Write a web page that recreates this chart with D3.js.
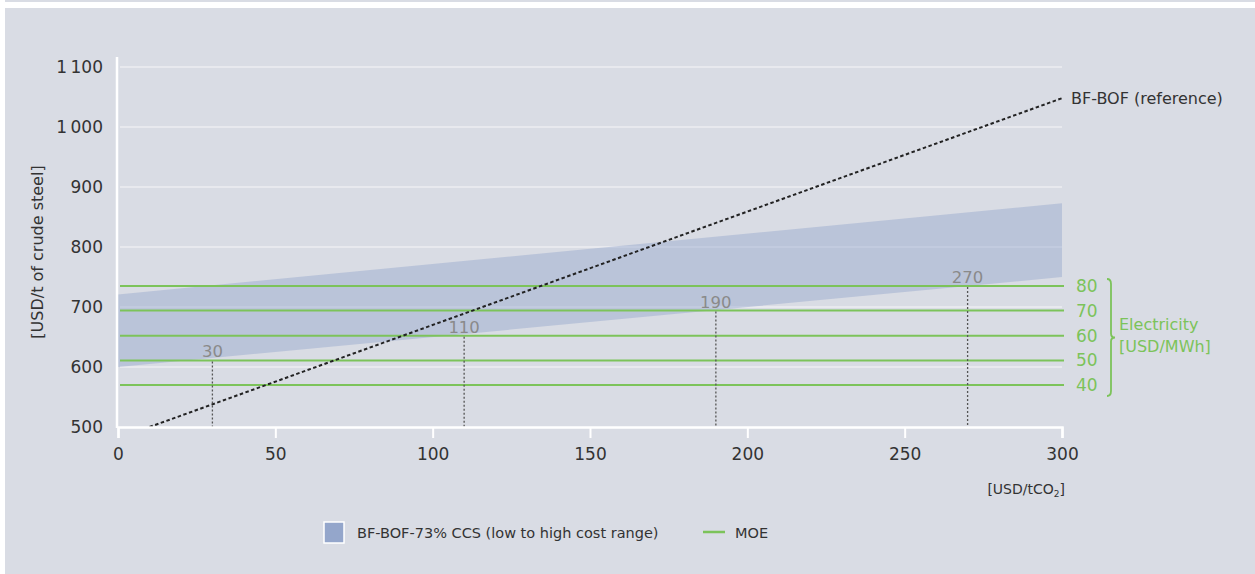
<!DOCTYPE html>
<html>
<head>
<meta charset="utf-8">
<script src="https://cdn.jsdelivr.net/npm/d3@7"></script>
<style>
  html, body { margin: 0; padding: 0; background: #ffffff; }
  svg { display: block; }
  text { font-family: "DejaVu Sans", sans-serif; }
</style>
</head>
<body>
<svg id="chart" width="1255" height="574"></svg>
<script>
// ---- data ----
const carbonPrice = [0, 300];                 // USD/tCO2
const ccsLow = [600, 750];                    // BF-BOF-73% CCS low cost
const ccsHigh = [721, 873];                   // BF-BOF-73% CCS high cost
const bfbofPrice = [10, 300];
const bfbofCost = [500, 1048];                // BF-BOF (reference)
const moeElectricity = [40, 50, 60, 70, 80];  // USD/MWh
const moeCost = [570, 611, 652, 694, 735];    // MOE cost lines
const breakevenPrice = [30, 110, 190, 270];
const breakevenCost = [611, 652, 694, 735];
const yTicks = [500, 600, 700, 800, 900, 1000, 1100];
const xTicks = [0, 50, 100, 150, 200, 250, 300];

// ---- setup ----
const svg = d3.select("#chart");
const W = 1255, H = 574;
const bg = "#d9dce4", green = "#7cc35a", txt = "#333333";
const FF = "'DejaVu Sans', sans-serif";

svg.append("rect").attr("x", 0).attr("y", 0).attr("width", W).attr("height", H).attr("fill", bg);
svg.append("rect").attr("x", 0).attr("y", 0).attr("width", 5).attr("height", H).attr("fill", "#ffffff");
svg.append("rect").attr("x", 0).attr("y", 2).attr("width", W).attr("height", 6).attr("fill", "#ffffff");

const x = d3.scaleLinear().domain([0, 300]).range([118, 1062]);
const y = d3.scaleLinear().domain([500, 1100]).range([427, 67]);

// gridlines
svg.append("g").selectAll("line").data(yTicks.filter(d => d > 500)).join("line")
  .attr("x1", x(0) + 2).attr("x2", x(300))
  .attr("y1", d => y(d)).attr("y2", d => y(d))
  .attr("stroke", "#e8e9ee").attr("stroke-width", 2);

// band
const bandData = carbonPrice.map((p, i) => ({ p, lo: ccsLow[i], hi: ccsHigh[i] }));
svg.append("path").datum(bandData)
  .attr("d", d3.area().x(d => x(d.p)).y0(d => y(d.lo)).y1(d => y(d.hi)))
  .attr("fill", "#94a6cb").attr("fill-opacity", 0.45);

// MOE lines
svg.append("g").selectAll("line").data(moeCost).join("line")
  .attr("x1", x(0) + 2).attr("x2", x(300) + 2)
  .attr("y1", d => y(d)).attr("y2", d => y(d))
  .attr("stroke", green).attr("stroke-width", 2);

// breakeven dotted verticals and labels
const be = breakevenPrice.map((p, i) => ({ p, c: breakevenCost[i] }));
svg.append("g").selectAll("line").data(be).join("line")
  .attr("x1", d => x(d.p)).attr("x2", d => x(d.p))
  .attr("y1", d => y(d.c) + 1).attr("y2", y(500))
  .attr("stroke", "#555").attr("stroke-width", 1.3).attr("stroke-dasharray", "2,2");
svg.append("g").selectAll("text").data(be).join("text")
  .attr("x", d => x(d.p)).attr("y", d => y(d.c) - 3)
  .attr("text-anchor", "middle").attr("font-size", 16.5).attr("fill", "#8a8a8a")
  .text(d => d.p);

// BF-BOF reference line
const refData = bfbofPrice.map((p, i) => ({ p, c: bfbofCost[i] }));
svg.append("path").datum(refData)
  .attr("d", d3.line().x(d => x(d.p)).y(d => y(d.c)))
  .attr("fill", "none").attr("stroke", "#222").attr("stroke-width", 2)
  .attr("stroke-dasharray", "3.5,2.5");
svg.append("text").attr("x", x(300) + 9).attr("y", y(bfbofCost[1]) + 6)
  .attr("font-size", 16).attr("fill", txt).text("BF-BOF (reference)");

// axes
const fmt = d => d >= 1000 ? d3.format(",")(d).replace(",", "\u2009") : String(d);
const yAxis = svg.append("g").attr("transform", `translate(${x(0) - 1},0)`)
  .call(d3.axisLeft(y).tickValues(yTicks).tickSize(0).tickPadding(14).tickFormat(fmt));
yAxis.select(".domain").remove();
yAxis.selectAll("text").attr("font-size", 17).attr("fill", txt).attr("font-family", FF);
svg.append("line").attr("x1", x(0) - 1).attr("x2", x(0) - 1).attr("y1", 57).attr("y2", y(500) + 1)
  .attr("stroke", "#fff").attr("stroke-width", 2.5);

const xAxis = svg.append("g").attr("transform", `translate(0,${y(500)})`)
  .call(d3.axisBottom(x).tickValues(xTicks).tickSize(11).tickPadding(10));
xAxis.select(".domain").attr("stroke", "#fff").attr("stroke-width", 2.5);
xAxis.selectAll(".tick line").attr("stroke", "#fff").attr("stroke-width", 2);
xAxis.selectAll("text").attr("font-size", 17).attr("fill", txt).attr("font-family", FF);

// axis titles
svg.append("text").attr("transform", `translate(43,252) rotate(-90)`)
  .attr("text-anchor", "middle").attr("font-size", 16).attr("fill", txt)
  .text("[USD/t of crude steel]");
const xt = svg.append("text").attr("x", x(300) + 3).attr("y", 494).attr("text-anchor", "end")
  .attr("font-size", 14).attr("fill", txt);
xt.append("tspan").text("[USD/tCO");
xt.append("tspan").attr("font-size", 9).attr("dy", 3).text("2");
xt.append("tspan").attr("dy", -3).text("]");

// electricity labels
svg.append("g").selectAll("text").data(moeElectricity).join("text")
  .attr("x", x(300) + 14).attr("y", (d, i) => y(moeCost[i]) + 6)
  .attr("font-size", 17).attr("fill", green).text(d => d);
const bTop = y(moeCost[4]) - 7, bBot = y(moeCost[0]) + 11, bMid = (bTop + bBot) / 2, bx = 1107;
svg.append("path")
  .attr("d", `M${bx},${bTop} Q${bx + 4},${bTop} ${bx + 4},${bTop + 5} L${bx + 4},${bMid - 4} Q${bx + 4},${bMid} ${bx + 8},${bMid} Q${bx + 4},${bMid} ${bx + 4},${bMid + 4} L${bx + 4},${bBot - 5} Q${bx + 4},${bBot} ${bx},${bBot}`)
  .attr("fill", "none").attr("stroke", green).attr("stroke-width", 1.8);
svg.append("text").attr("x", 1119).attr("y", 330).attr("font-size", 16).attr("fill", green).text("Electricity");
svg.append("text").attr("x", 1119).attr("y", 352).attr("font-size", 16).attr("fill", green).text("[USD/MWh]");

// legend
svg.append("rect").attr("x", 324).attr("y", 522).attr("width", 20).attr("height", 21)
  .attr("fill", "#94a6cb").attr("stroke", "#fff").attr("stroke-width", 1.5);
svg.append("text").attr("x", 357).attr("y", 538).attr("font-size", 14.5).attr("fill", txt)
  .text("BF-BOF-73% CCS (low to high cost range)");
svg.append("line").attr("x1", 703).attr("x2", 725).attr("y1", 532).attr("y2", 532)
  .attr("stroke", green).attr("stroke-width", 2.5);
svg.append("text").attr("x", 735).attr("y", 538).attr("font-size", 14.5).attr("fill", txt).text("MOE");
</script>
</body>
</html>
